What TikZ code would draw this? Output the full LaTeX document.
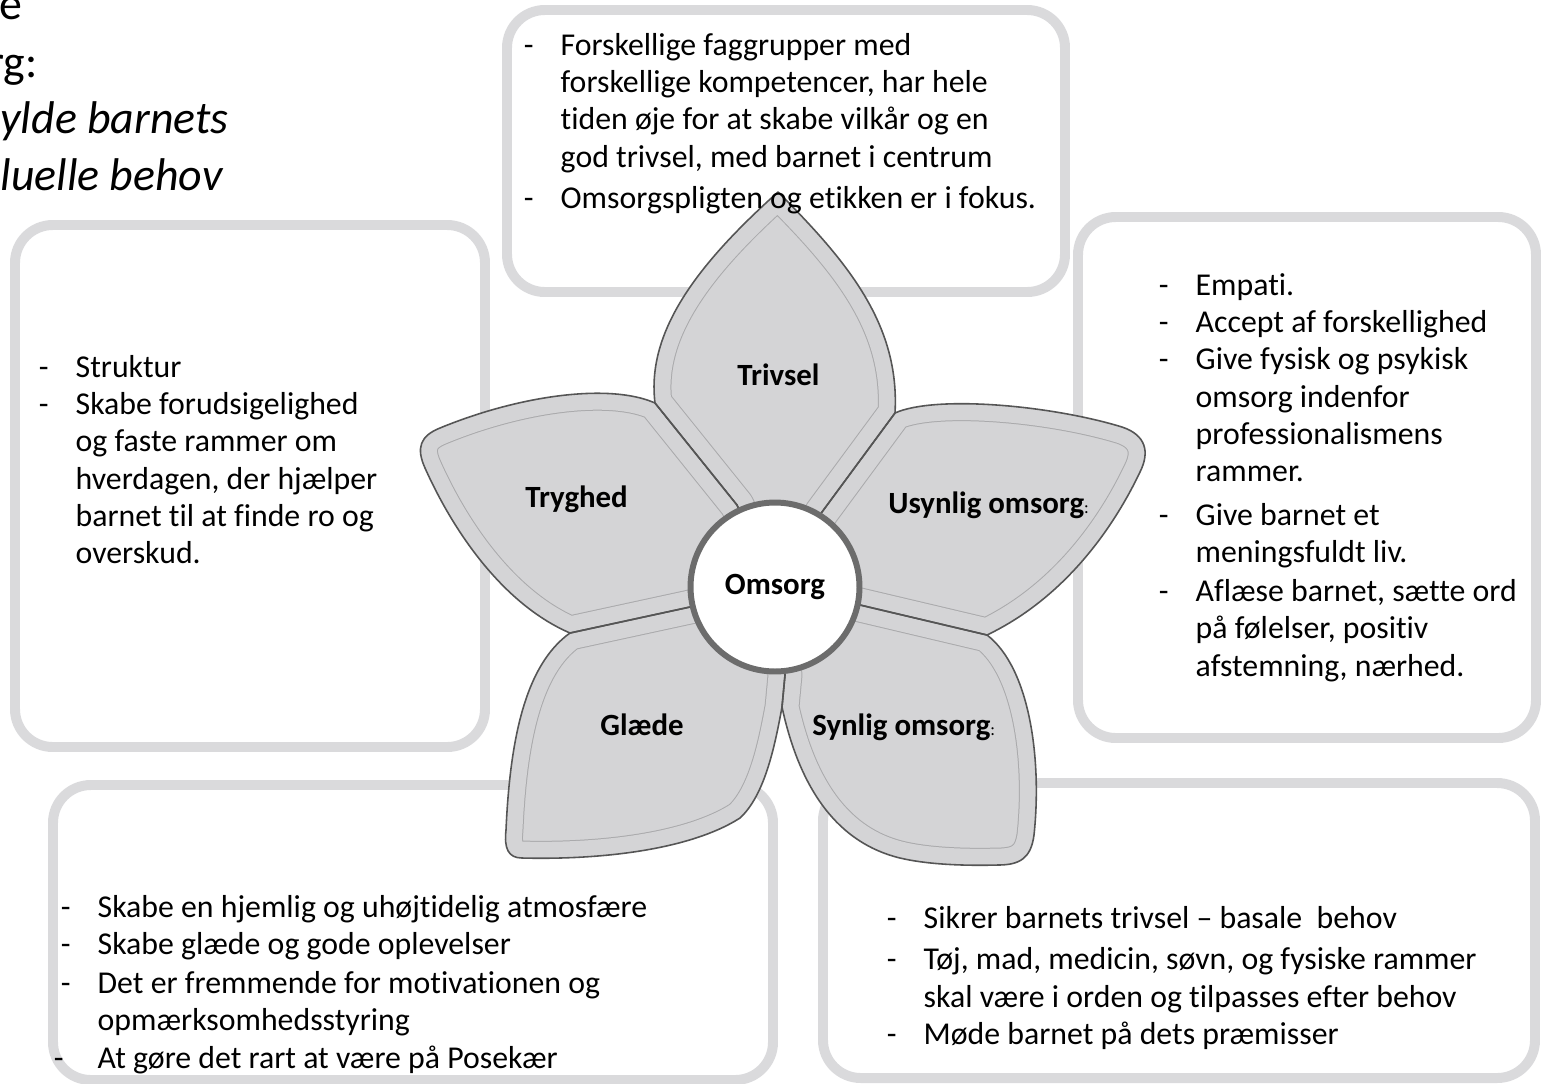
\documentclass[tikz,border=0pt]{standalone}
\usepackage{fontspec}
\setmainfont{Carlito}[Ligatures=NoCommon]
\definecolor{boxgray}{RGB}{218,218,220}
\definecolor{petalfill}{RGB}{212,212,214}
\definecolor{petalline}{RGB}{85,85,85}
\definecolor{innerline}{RGB}{170,170,172}
\definecolor{ringgray}{RGB}{108,108,108}
\newcommand\bodyfont{\fontsize{18.1pt}{21.26pt}\selectfont}
\newcommand\labelfont{\fontsize{17.57pt}{21.26pt}\selectfont}
\newcommand\dsh{\makebox[20.98pt][l]{-}}
\newcommand\ind{\hspace*{20.98pt}}
\tikzset{
 infobox/.style={draw=boxgray, line width=5.67pt, rounded corners=21.5pt},
 boxtext/.style={anchor=base west, inner sep=0pt},
 petallabel/.style={anchor=base west, inner sep=0pt, font=\labelfont\bfseries},
 titletext/.style={anchor=base east, inner sep=0pt, font=\fontsize{26.1pt}{31.7pt}\selectfont},
 petaloutline/.style={draw=petalline, line width=0.9pt, line join=round},
 innerA/.style={draw=innerline, line width=19.84pt, line join=round},
 innerB/.style={draw=petalfill, line width=18.7pt, line join=round},
}
\begin{document}
\begin{tikzpicture}[x=0.02cm,y=-0.02cm]
\useasboundingbox (0,0) rectangle (1545,1083);
\clip (0,0) rectangle (1545,1083);
\fill[white] (0,0) rectangle (1545,1083);

% title fragments
\node[titletext] (t1) at (23,19) {e};
\node[titletext] (t2) at (38,77) {rg:};
\node[titletext] (t3) at (229,133) {\itshape ylde barnets};
\node[titletext] (t4) at (223,190) {\itshape luelle behov};

% boxes
\draw[infobox] (507,10) rectangle (1065,292);
\draw[infobox] (15,225) rectangle (485,747);
\draw[infobox] (1078,217) rectangle (1536,738);
\draw[infobox] (53,785) rectangle (773,1080);
\draw[infobox] (823,783) rectangle (1535,1078);

% flower coordinates
\coordinate (C) at (775,587);
\coordinate (pTL) at (737,505);
\coordinate (pTR) at (822,512);
\coordinate (pRB) at (860,605);
\coordinate (pB) at (785,675);
\coordinate (pLB) at (690,607);
\coordinate (jTL) at (655,403);
\coordinate (jTR) at (895,413);
\coordinate (jRB) at (987,635);
\coordinate (jB) at (782,707);
\coordinate (jLB) at (570,633);

\def\petalTop{(C) -- (pTL) -- (jTL) .. controls (646,330) and (700,262) .. (778,192) .. controls (848,262) and (900,325) .. (jTR) -- (pTR) -- cycle}
\def\petalRight{(C) -- (pTR) -- (jTR) .. controls (935,395) and (1050,405) .. (1122,427) .. controls (1146,435) and (1150,452) .. (1140,472) .. controls (1110,535) and (1060,600) .. (jRB) -- (pRB) -- cycle}
\def\petalBR{(C) -- (pRB) -- (jRB) .. controls (1030,668) and (1042,760) .. (1034,835) .. controls (1031,858) and (1020,865) .. (998,865) .. controls (960,866) and (925,864) .. (900,858) .. controls (838,843) and (800,790) .. (jB) -- (pB) -- cycle}
\def\petalBL{(C) -- (pB) -- (jB) .. controls (775,745) and (765,795) .. (740,818) .. controls (690,850) and (600,860) .. (522,858) .. controls (508,858) and (504,848) .. (506,830) .. controls (510,740) and (525,665) .. (jLB) -- (pLB) -- cycle}
\def\petalLeft{(C) -- (pLB) -- (jLB) .. controls (505,605) and (455,535) .. (425,468) .. controls (416,448) and (420,436) .. (440,428) .. controls (520,395) and (610,383) .. (jTL) -- (pTL) -- cycle}

\foreach \p in {\petalTop,\petalRight,\petalBR,\petalBL,\petalLeft}{
  \begin{scope}
    \clip \p;
    \fill[petalfill] \p;
    \draw[innerA] \p;
    \draw[innerB] \p;
  \end{scope}
}
\foreach \p in {\petalTop,\petalRight,\petalBR,\petalBL,\petalLeft}{
  \draw[petaloutline] \p;
}

\node[circle, draw=ringgray, line width=3.4pt, fill=white, minimum size=3.38cm, inner sep=0pt, font=\labelfont\bfseries] (omsorg) at (C) {Omsorg};

% petal labels
\node[petallabel] (trivsel) at (737,385) {Trivsel};
\node[petallabel] (tryghed) at (525,507) {Tryghed};
\node[petallabel] (usynlig) at (888,513) {Usynlig omsorg{\mdseries\fontsize{10pt}{12pt}\selectfont :}};
\node[petallabel] (glaede) at (600,735) {Glæde};
\node[petallabel] (synlig) at (812,735) {Synlig omsorg{\mdseries\fontsize{10pt}{12pt}\selectfont :}};

% box texts
\node[boxtext] (topText) at (523.5,55) {\parbox[t]{12cm}{\bodyfont\raggedright
\dsh Forskellige faggrupper med\\
\ind forskellige kompetencer, har hele\\
\ind tiden øje for at skabe vilkår og en\\
\ind god trivsel, med barnet i centrum\\[2.5pt]
\dsh Omsorgspligten og etikken er i fokus.}};

\node[boxtext] (leftText) at (38.5,377) {\parbox[t]{9cm}{\bodyfont\raggedright
\dsh Struktur\\
\dsh Skabe forudsigelighed\\
\ind og faste rammer om\\
\ind hverdagen, der hjælper\\
\ind barnet til at finde ro og\\
\ind overskud.}};

\node[boxtext] (rightText) at (1158.5,295) {\parbox[t]{9cm}{\bodyfont\raggedright
\dsh Empati.\\
\dsh Accept af forskellighed\\
\dsh Give fysisk og psykisk\\
\ind omsorg indenfor\\
\ind professionalismens\\
\ind rammer.\\[3.4pt]
\dsh Give barnet et\\
\ind meningsfuldt liv.\\[1pt]
\dsh Aflæse barnet, sætte ord\\
\ind på følelser, positiv\\
\ind afstemning, nærhed.}};

\node[boxtext] (blText) at (60.5,917) {\parbox[t]{14cm}{\bodyfont\raggedright
\dsh Skabe en hjemlig og uhøjtidelig atmosfære\\
\dsh Skabe glæde og gode oplevelser\\[1pt]
\dsh Det er fremmende for motivationen og\\
\ind opmærksomhedsstyring\\
\hspace*{-3.97pt}\makebox[24.95pt][l]{-}At gøre det rart at være på Posekær}};

\node[boxtext] (brText) at (886.5,928) {\parbox[t]{14cm}{\bodyfont\raggedright
\dsh Sikrer barnets trivsel – basale\ \ behov\\[2.5pt]
\dsh Tøj, mad, medicin, søvn, og fysiske rammer\\
\ind skal være i orden og tilpasses efter behov\\
\dsh Møde barnet på dets præmisser}};
\end{tikzpicture}
\end{document}
